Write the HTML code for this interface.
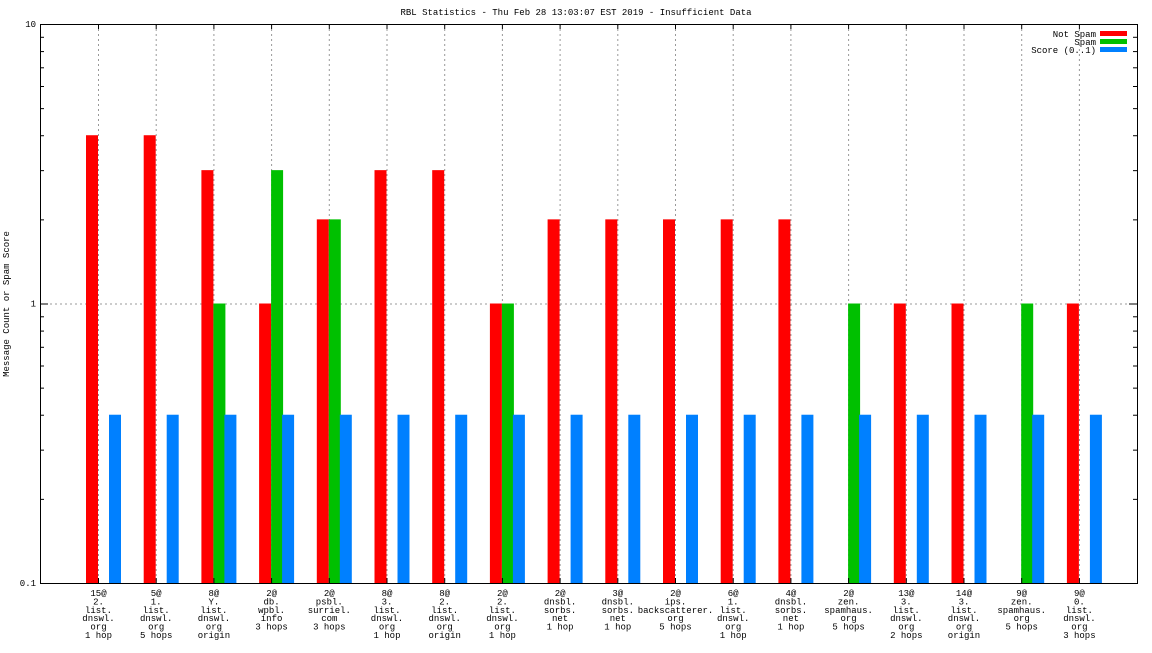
<!DOCTYPE html>
<html><head><meta charset="utf-8"><style>
body{margin:0;background:#fff}
svg text{font-family:"Liberation Mono","DejaVu Sans Mono",monospace;font-size:9px;fill:#000}
</style></head><body>
<svg id="chart" width="1152" height="648" xmlns="http://www.w3.org/2000/svg">
<text x="576" y="15" text-anchor="middle">RBL Statistics - Thu Feb 28 13:03:07 EST 2019 - Insufficient Data</text>
<text transform="translate(9,304) rotate(-90)" text-anchor="middle">Message Count or Spam Score</text>
<g id="grid"></g><g id="bars"></g><g id="axes"></g>
<g>
<text x="1096" y="37" text-anchor="end">Not Spam</text>
<rect x="1100" y="31" width="27" height="5" fill="#ff0000"/>
<text x="1096" y="45" text-anchor="end">Spam</text>
<rect x="1100" y="39" width="27" height="5" fill="#00c000"/>
<text x="1096" y="53" text-anchor="end">Score (0..1)</text>
<rect x="1100" y="47" width="27" height="5" fill="#0080ff"/>
</g>
</svg>
<script>
const categories=[
["15@","2.","list.","dnswl.","org","1 hop"],["5@","1.","list.","dnswl.","org","5 hops"],["8@","Y.","list.","dnswl.","org","origin"],
["2@","db.","wpbl.","info","3 hops"],["2@","psbl.","surriel.","com","3 hops"],["8@","3.","list.","dnswl.","org","1 hop"],
["8@","2.","list.","dnswl.","org","origin"],["2@","2.","list.","dnswl.","org","1 hop"],["2@","dnsbl.","sorbs.","net","1 hop"],
["3@","dnsbl.","sorbs.","net","1 hop"],["2@","ips.","backscatterer.","org","5 hops"],["6@","1.","list.","dnswl.","org","1 hop"],
["4@","dnsbl.","sorbs.","net","1 hop"],["2@","zen.","spamhaus.","org","5 hops"],["13@","3.","list.","dnswl.","org","2 hops"],
["14@","3.","list.","dnswl.","org","origin"],["9@","zen.","spamhaus.","org","5 hops"],["9@","0.","list.","dnswl.","org","3 hops"]];
const notSpam=[4,4,3,1,2,3,3,1,2,2,2,2,2,0,1,1,0,1];
const spam=[0,0,1,3,2,0,0,1,0,0,0,0,0,1,0,0,1,0];
const score=[0.4,0.4,0.4,0.4,0.4,0.4,0.4,0.4,0.4,0.4,0.4,0.4,0.4,0.4,0.4,0.4,0.4,0.4];
const yTicks=[0.1,1,10];
const NS="http://www.w3.org/2000/svg";
const L=40,R=1137,T=24,B=583;
const y=v=>B-(Math.log10(v)+1)/2*(B-T);
const xc=i=>98+i*57.7;
function mk(tag,attrs,parent){const e=document.createElementNS(NS,tag);for(const k in attrs)e.setAttribute(k,attrs[k]);parent.appendChild(e);return e;}
const grid=document.getElementById('grid'),bars=document.getElementById('bars'),axes=document.getElementById('axes');
categories.forEach((c,i)=>{
 const g=mk('line',{x1:xc(i)+0.5,x2:xc(i)+0.5,y1:T,y2:B,stroke:'#999','stroke-dasharray':'2,3'},grid);
 
 
 const t=mk('line',{x1:xc(i)+0.5,x2:xc(i)+0.5,y1:T,y2:T+5,stroke:'#000'},axes);
 
 
 const t2=mk('line',{x1:xc(i)+0.5,x2:xc(i)+0.5,y1:B,y2:B-5,stroke:'#000'},axes);
 
 
 const tx=mk('text',{x:xc(i)+0.5,'text-anchor':'middle'},axes);
 
 
 c.forEach((s,j)=>{const sp=mk('tspan',{x:xc(i)+0.5,y:596+j*8.4},tx);sp.textContent=s;});
 const series=[[notSpam[i],-12,'#ff0000','bar-not-spam'],[spam[i],0,'#00c000','bar-spam'],[score[i],11,'#0080ff','bar-score']];
 series.forEach(([v,dx,col,name])=>{ if(v>0.1){
  const r=mk('rect',{x:xc(i)+dx,y:y(v),width:12,height:B-y(v),fill:col},bars);
  
  
 }});
});
const hg=mk('line',{x1:L,x2:R,y1:y(1)+0.5,y2:y(1)+0.5,stroke:'#999','stroke-dasharray':'2,3'},grid);


yTicks.forEach(v=>{
 const tx=mk('text',{x:L-4,y:y(v)+3,'text-anchor':'end'},axes);tx.textContent=String(v);
 
 
 [[L,L+8],[R,R-8]].forEach(([a,b])=>mk('line',{x1:a,x2:b,y1:y(v)+0.5,y2:y(v)+0.5,stroke:'#000'},axes));
});
[0.1,1].forEach(d=>{for(let m=2;m<10;m++){const yy=y(d*m)+0.5;
 mk('line',{x1:L,x2:L+4,y1:yy,y2:yy,stroke:'#000'},axes);mk('line',{x1:R,x2:R-4,y1:yy,y2:yy,stroke:'#000'},axes);}});
const fr=mk('rect',{x:L+0.5,y:T+0.5,width:R-L,height:B-T,fill:'none',stroke:'#000'},axes);


</script>
</body></html>
